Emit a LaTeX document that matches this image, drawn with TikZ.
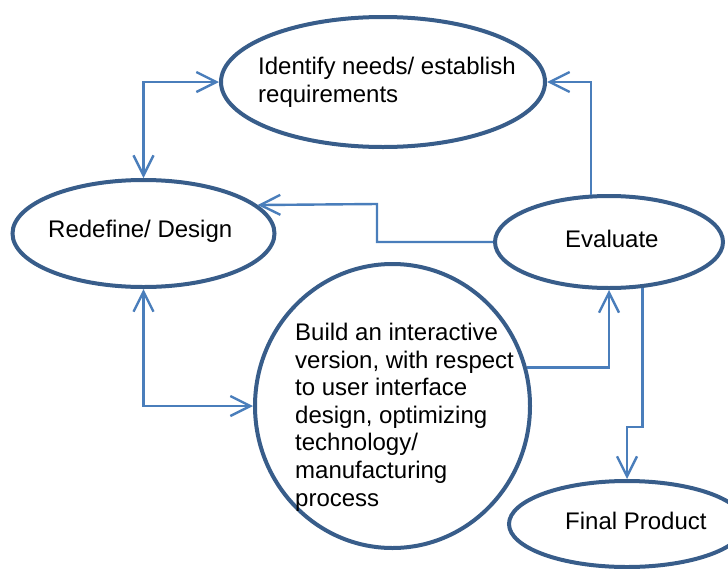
\documentclass[tikz,border=0pt]{standalone}
\usepackage{fontspec}
\setmainfont{Liberation Sans}
\usetikzlibrary{arrows.meta,shapes.geometric}
\definecolor{rimblue}{HTML}{385D8A}
\definecolor{linkblue}{HTML}{4A7EBB}
\tikzset{
  stage/.style={ellipse, draw=rimblue, line width=4pt, fill=white, inner sep=0pt},
  stagetext/.style={anchor=north west, inner sep=0pt, align=left,
                    font=\fontsize{24}{27.6}\selectfont},
  link/.style={draw=linkblue, line width=2.4pt},
  openv/.tip={Straight Barb[length=20pt,width=20pt]}
}
\begin{document}
\begin{tikzpicture}[x=1pt,y=-1pt]
\useasboundingbox (0,0) rectangle (728,568);

% process stages
\node[stage, minimum width=324pt, minimum height=130pt] (identify) at (383,82) {};
\node[stage, minimum width=262pt, minimum height=107pt] (redefine) at (143.5,233.5) {};
\node[stage, minimum width=228pt, minimum height=92pt]  (evaluate) at (609,242) {};
\node[stage, minimum width=275pt, minimum height=284pt] (build)    at (392.5,406) {};
\node[stage, minimum width=236pt, minimum height=86pt]  (final)    at (627,524) {};

% stage captions
\node[stagetext] (identifyText) at (258,57)  {Identify needs/ establish\\requirements};
\node[stagetext] (redefineText) at (48,220)  {Redefine/ Design};
\node[stagetext] (evaluateText) at (565,230) {Evaluate};
\node[stagetext] (buildText)    at (295,323) {Build an interactive\\version, with respect\\to user interface\\design, optimizing\\technology/\\manufacturing\\process};
\node[stagetext] (finalText)    at (565,512) {Final Product};

% elbow points of the routed connectors
\coordinate (elbowA) at (377,204);
\coordinate (elbowB) at (627,427);

% connectors
\draw[link, openv-openv] (redefine.north) |- (identify.west);
\draw[link, -openv] (evaluate.west) -| (elbowA) -- (redefine.14.67);
\draw[link, -openv] (evaluate.111.87) |- (identify.east);
\draw[link, openv-openv] (redefine.south) |- (build.west);
\draw[link, -openv] (build.16.2) -| (evaluate.south);
\draw[link, -openv] (evaluate.-54.36) |- (elbowB) -- (final.north);
\end{tikzpicture}
\end{document}
